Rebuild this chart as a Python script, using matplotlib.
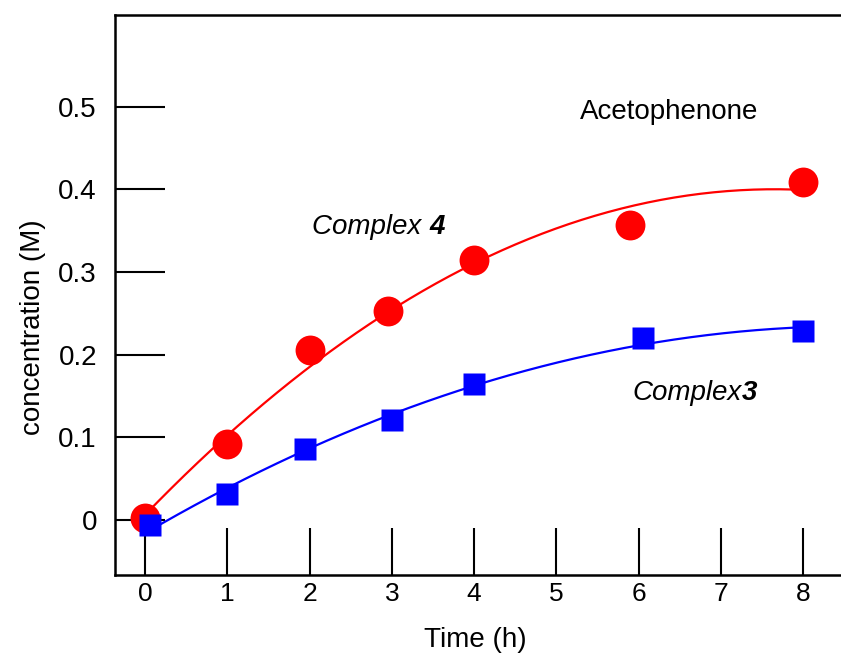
import numpy as np
import matplotlib; matplotlib.use("Agg")
import matplotlib.pyplot as plt

plt.rcParams["font.family"] = ["Liberation Sans", "DejaVu Sans"]

# ── Veri ────────────────────────────────────────────────────────────────
t_c4 = [0.0, 1.0, 2.0, 2.95, 4.0, 5.9, 8.0]
y_c4 = [0.002, 0.092, 0.206, 0.253, 0.315, 0.357, 0.409]

t_c3 = [0.06, 1.0, 1.95, 3.0, 4.0, 6.05, 8.0]
y_c3 = [-0.006, 0.031, 0.086, 0.121, 0.165, 0.220, 0.229]

x_ticks = [0, 1, 2, 3, 4, 5, 6, 7, 8]
y_ticks = [0, 0.1, 0.2, 0.3, 0.4, 0.5]
y_ticklabels = ["0", "0.1", "0.2", "0.3", "0.4", "0.5"]

# fit eğrileri (polinom)
tt = np.linspace(0, 8, 200)
fit_c4 = np.polyval(np.polyfit(t_c4, y_c4, 2), tt)
fit_c3 = np.polyval(np.polyfit(t_c3, y_c3, 2), tt)

fig = plt.figure(figsize=(8.41, 6.6), dpi=100)
ax = fig.add_axes([0.1367, 0.1288, 0.8633, 0.8485])

ax.plot(tt, fit_c4, color="#ff0000", lw=1.6, zorder=2)
ax.plot(tt, fit_c3, color="#0000ff", lw=1.6, zorder=2)
ax.plot(t_c4, y_c4, "o", color="#ff0000", ms=21.5, mec="none", zorder=3)
ax.plot(t_c3, y_c3, "s", color="#0000ff", ms=15.5, mec="none", zorder=4)

ax.set_xlim(-0.365, 8.46)
ax.set_ylim(-0.0666, 0.611)

ax.set_xticks(x_ticks)
ax.set_xticklabels([str(v) for v in x_ticks], fontsize=19)
ax.set_yticks(y_ticks)
ax.set_yticklabels(y_ticklabels, fontsize=20)
ax.tick_params(axis="y", direction="in", length=36, width=1.5, pad=13)
ax.tick_params(axis="x", direction="in", length=34, width=1.5, pad=5)

for s in ["left", "top", "bottom"]:
    ax.spines[s].set_linewidth(1.8)
ax.spines["right"].set_visible(False)

ax.set_xlabel("Time (h)", fontsize=20)
ax.xaxis.set_label_coords(0.497, -0.093)
ax.set_ylabel("concentration (M)", fontsize=20)
ax.yaxis.set_label_coords(-0.095, 0.443)

ax.text(5.29, 0.494, "Acetophenone", fontsize=20, va="center", ha="left")
t4 = ax.text(2.03, 0.355, "Complex ", fontsize=20, style="italic", va="center", ha="left")
ax.annotate("4", xy=(1, 0), xycoords=t4, fontsize=20, style="italic",
            fontweight="bold", va="bottom", ha="left")
t3 = ax.text(5.92, 0.154, "Complex", fontsize=20, style="italic", va="center", ha="left")
ax.annotate("3", xy=(1, 0), xycoords=t3, fontsize=20, style="italic",
            fontweight="bold", va="bottom", ha="left")

fig.savefig("out.png", dpi=100)
plt.close(fig)
